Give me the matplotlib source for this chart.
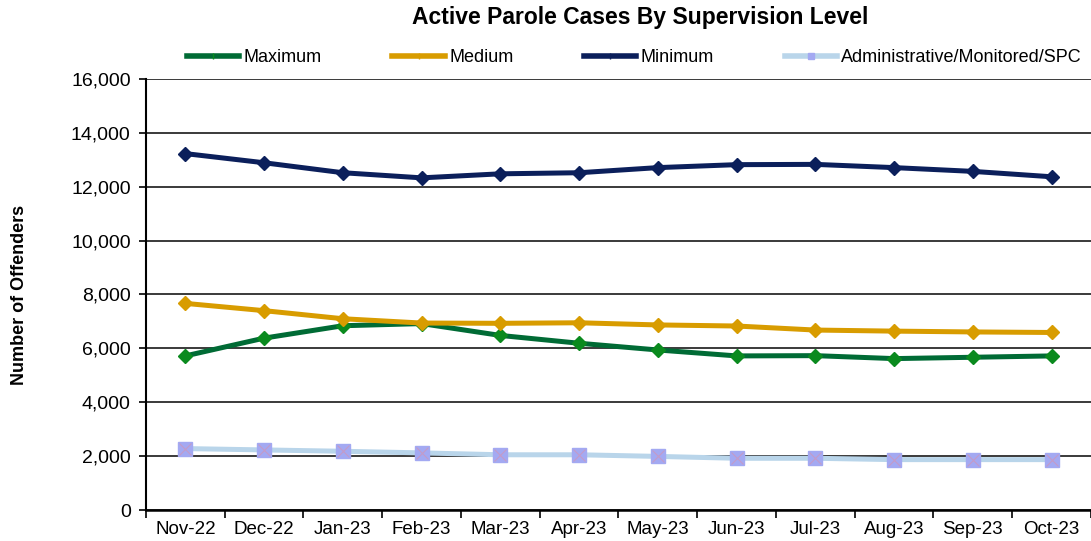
import matplotlib
matplotlib.use("Agg")
import matplotlib.pyplot as plt
from matplotlib.lines import Line2D
from matplotlib.ticker import FuncFormatter, FixedLocator
import numpy as np

plt.rcParams['font.family'] = ['Liberation Sans', 'DejaVu Sans']

months = ['Nov-22', 'Dec-22', 'Jan-23', 'Feb-23', 'Mar-23', 'Apr-23',
          'May-23', 'Jun-23', 'Jul-23', 'Aug-23', 'Sep-23', 'Oct-23']
maximum = [5720, 6380, 6840, 6920, 6480, 6190, 5940, 5720, 5730, 5620, 5670, 5720]
medium = [7670, 7400, 7100, 6940, 6930, 6950, 6870, 6830, 6680, 6640, 6610, 6590]
minimum = [13230, 12890, 12520, 12330, 12480, 12520, 12710, 12820, 12830, 12710, 12570, 12370]
admin = [2280, 2230, 2180, 2120, 2050, 2050, 1990, 1920, 1920, 1870, 1870, 1870]

c_max, c_max_mk = '#006B35', '#0A8A1E'
c_med = '#D89C00'
c_min = '#0B1F5B'
c_adm, c_adm_mk = '#B9D5EA', '#A3A9F2'

fig = plt.figure(figsize=(10.91, 5.41), dpi=100)
ax = fig.add_axes([0.1338, 0.0573, 0.8662, 0.7967])

x = np.arange(len(months))
ax.plot(x, maximum, color=c_max, lw=3.6, marker='D', ms=7.5,
        mfc=c_max_mk, mec=c_max_mk, zorder=3)
ax.plot(x, medium, color=c_med, lw=3.6, marker='D', ms=7.5,
        mfc=c_med, mec=c_med, zorder=3)
ax.plot(x, minimum, color=c_min, lw=3.6, marker='D', ms=7.5,
        mfc=c_min, mec=c_min, zorder=3)
ax.plot(x, admin, color=c_adm, lw=3.6, marker='s', ms=9.5,
        mfc=c_adm_mk, mec=c_adm_mk, zorder=3)
ax.plot(x, admin, ls='none', marker='x', ms=8, mew=0.8, color='#C49BC8', zorder=4)

ax.set_xlim(-0.5, len(months) - 0.5)
ax.set_ylim(0, 16000)
ax.set_yticks(np.arange(0, 16001, 2000))
ax.yaxis.set_major_formatter(FuncFormatter(lambda v, p: f'{int(v):,}'))
ax.grid(axis='y', color='#3A3A3A', lw=1.4, zorder=1)
ax.set_axisbelow(True)

# category boundaries carry the ticks, centres carry the labels
ax.xaxis.set_major_locator(FixedLocator(np.arange(-0.5, len(months), 1.0)))
ax.xaxis.set_minor_locator(FixedLocator(x))
ax.set_xticklabels([], minor=False)
ax.set_xticklabels(months, minor=True)
ax.tick_params(axis='x', which='major', length=6, width=1.2, direction='out')
ax.tick_params(axis='x', which='minor', length=0, labelsize=13.5, pad=8)
ax.tick_params(axis='y', length=5, width=1.2, direction='out', labelsize=14, pad=6)

for s in ['top', 'right']:
    ax.spines[s].set_visible(False)
ax.spines['left'].set_linewidth(1.5)
ax.spines['bottom'].set_linewidth(1.8)

ax.set_ylabel('Number of Offenders', fontsize=13, fontweight='bold', labelpad=31)

fig.text(0.587, 0.968, 'Active Parole Cases By Supervision Level', ha='center',
         va='center', fontsize=16.5, fontweight='bold')

handles = [
    Line2D([], [], color=c_max, lw=4, marker='|', ms=5, mec=c_max_mk),
    Line2D([], [], color=c_med, lw=4, marker='|', ms=5, mec=c_med),
    Line2D([], [], color=c_min, lw=4, marker='|', ms=5, mec=c_min),
    Line2D([], [], color=c_adm, lw=4, marker='s', ms=4, mfc=c_adm_mk, mec=c_adm_mk),
]
fig.legend(handles, ['Maximum', 'Medium', 'Minimum', 'Administrative/Monitored/SPC'],
           loc='center', bbox_to_anchor=(0.5816, 0.893), ncol=4, frameon=False,
           fontsize=13, handlelength=2.9, handletextpad=0.25, columnspacing=3.9)

fig.savefig('out.png', dpi=100)
